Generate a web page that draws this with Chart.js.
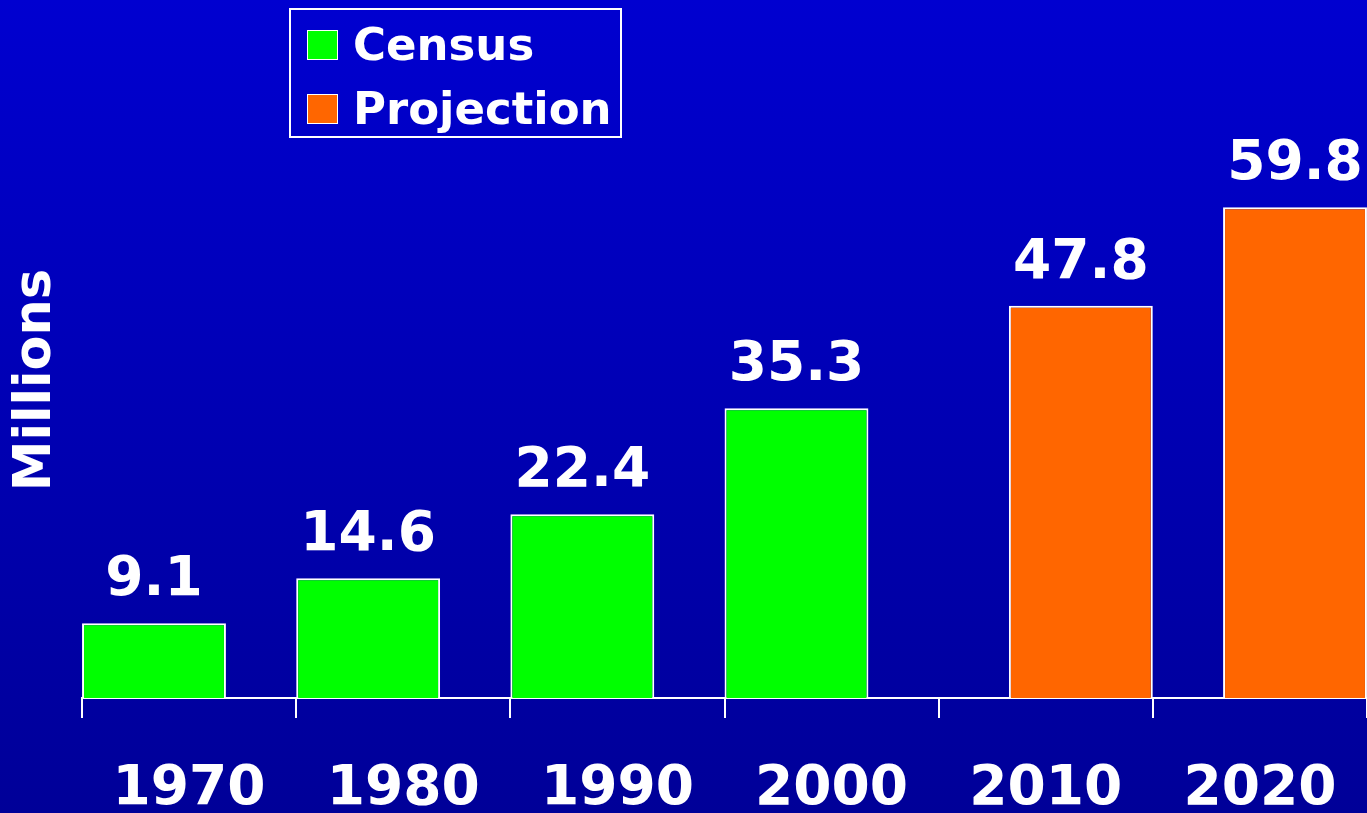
<!DOCTYPE html>
<html>
<head>
<meta charset="utf-8">
<script src="https://cdn.jsdelivr.net/npm/chart.js@4.4.0/dist/chart.umd.min.js"></script>
<style>
    html, body { margin: 0; padding: 0; }
    body { width: 1367px; height: 813px; background: linear-gradient(to bottom, #0000d0, #000098); overflow: hidden; }
    canvas { display: block; }
</style>
</head>
<body>
<canvas id="popChart" width="1367" height="813"></canvas>
<script>
const years = ['1970', '1980', '1990', '2000', '2010', '2020'];
const censusValues = [9.1, 14.6, 22.4, 35.3, null, null];
const projectionValues = [null, null, null, null, 47.8, 59.8];
const seriesNames = ['Census', 'Projection'];
const seriesColors = ['#00ff00', '#ff6600'];

const FONT = "'DejaVu Sans', Verdana, sans-serif";

// valeurs au-dessus des barres
const valueLabels = {
    id: 'valueLabels',
    afterDatasetsDraw(chart) {
        const ctx = chart.ctx;
        ctx.save();
        ctx.fillStyle = '#ffffff';
        ctx.font = `bold 55px ${FONT}`;
        ctx.textAlign = 'center';
        ctx.textBaseline = 'alphabetic';
        chart.data.datasets.forEach((ds, i) => {
            chart.getDatasetMeta(i).data.forEach((bar, j) => {
                const v = ds.data[j];
                if (v === null) return;
                ctx.fillText(v.toFixed(1), bar.x, bar.y - 28);
            });
        });
        ctx.restore();
    },
};

// légende encadrée
const boxLegend = {
    id: 'boxLegend',
    afterDraw(chart) {
        const ctx = chart.ctx;
        ctx.save();
        ctx.strokeStyle = '#ffffff';
        ctx.lineWidth = 2;
        ctx.strokeRect(290, 9, 331, 128);
        ctx.font = `bold 45px ${FONT}`;
        ctx.textBaseline = 'alphabetic';
        seriesNames.forEach((name, i) => {
            const y = 30 + i * 64;
            ctx.fillStyle = seriesColors[i];
            ctx.fillRect(307, y, 31, 30);
            ctx.lineWidth = 1;
            ctx.strokeRect(307.5, y + 0.5, 30, 29);
            ctx.fillStyle = '#ffffff';
            ctx.fillText(name, 353, y + 30);
        });
        ctx.restore();
    },
};

new Chart(document.getElementById('popChart'), {
    type: 'bar',
    data: {
        labels: years,
        datasets: [
            {
                label: seriesNames[0],
                data: censusValues,
                backgroundColor: seriesColors[0],
                borderColor: '#ffffff',
                borderWidth: 2,
            },
            {
                label: seriesNames[1],
                data: projectionValues,
                backgroundColor: seriesColors[1],
                borderColor: '#ffffff',
                borderWidth: 2,
            },
        ],
    },
    options: {
        responsive: false,
        animation: false,
        devicePixelRatio: 1,
        categoryPercentage: 0.6555,
        barPercentage: 2.05,
        layout: { padding: { top: 62, left: 0, right: 0, bottom: 0 } },
        plugins: {
            legend: { display: false },
            tooltip: { enabled: false },
        },
        scales: {
            x: {
                afterFit: (scale) => {
                    scale.height = 115;
                    scale.paddingLeft = 0;
                    scale.paddingRight = 0;
                },
                grid: {
                    offset: true,
                    drawOnChartArea: false,
                    drawTicks: true,
                    tickLength: 20,
                    color: '#ffffff',
                    lineWidth: 2,
                },
                border: { display: true, color: '#ffffff', width: 2 },
                ticks: {
                    color: '#ffffff',
                    padding: 44,
                    font: { family: FONT, size: 55, weight: 'bold', lineHeight: 1 },
                },
            },
            y: {
                min: 0,
                max: 77.5,
                grid: { display: false, drawTicks: false },
                border: { display: false },
                ticks: { display: false },
                title: {
                    display: true,
                    text: 'Millions',
                    color: '#ffffff',
                    padding: { top: 11, bottom: 20 },
                    font: { family: FONT, size: 51, weight: 'bold', lineHeight: 1 },
                },
            },
        },
    },
    plugins: [valueLabels, boxLegend],
});
</script>
</body>
</html>
